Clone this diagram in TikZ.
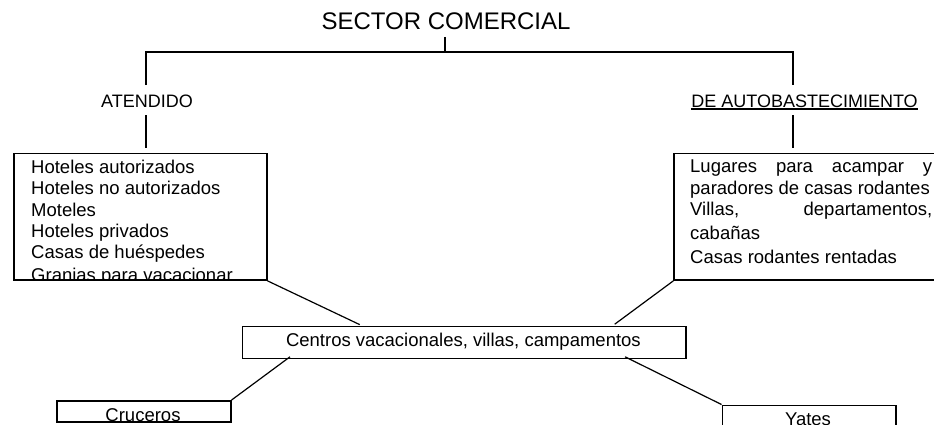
\documentclass[tikz,border=0pt]{standalone}
\usepackage{fontspec}
\setmainfont{Liberation Sans}
\begin{document}
\begin{tikzpicture}[x=1pt,y=-1pt,
  conn/.style={line width=1.2pt},
  box/.style={draw,line width=1.6pt,rectangle,inner sep=0pt,anchor=north west},
  btext/.style={font=\fontsize{18.5}{22}\selectfont,inner sep=0pt,anchor=base west},
  ctext/.style={font=\fontsize{18.5}{22}\selectfont,inner sep=0pt,anchor=base},
  lab/.style={font=\fontsize{18}{22}\selectfont,inner sep=0pt,anchor=base}]
\clip (0,0) rectangle (934,425);
% title and labels
\node[font=\fontsize{24}{28}\selectfont,inner sep=0pt,anchor=base] (title) at (446,29.3) {SECTOR COMERCIAL};
\node[lab] (atend) at (147,108) {ATENDIDO};
\node[lab] (auto) at (804.5,107.3) {DE AUTOBASTECIMIENTO};
\draw[line width=1.3pt] ([yshift=-1.8pt]auto.base west) -- ([yshift=-1.8pt]auto.base east);
% junctions
\coordinate (tj) at (445,52);
\coordinate (lj) at (146,52);
\coordinate (rj) at (793,52);
% boxes
\node[box,minimum width=252.7pt,minimum height=126.8pt] (lbox) at (13.3,152.5) {};
\node[box,minimum width=300pt,minimum height=126.8pt] (rbox) at (673.3,152.5) {};
\node[box,minimum width=443.3pt,minimum height=32pt] (cbox) at (241.7,325.7) {};
\node[box,minimum width=174pt,minimum height=21pt] (cru) at (56,400) {};
\node[box,minimum width=173.5pt,minimum height=40pt] (yat) at (721.5,404.5) {};
% left box text
\begin{scope}
\clip ([shift={(0.8pt,0.8pt)}]lbox.south west) rectangle ([shift={(-0.8pt,-0.8pt)}]lbox.north east);
\node[btext] (l1) at (31,173.3) {Hoteles autorizados};
\node[btext] (l2) at (31,194.7) {Hoteles no autorizados};
\node[btext] (l3) at (31,216.1) {Moteles};
\node[btext] (l4) at (31,237.5) {Hoteles privados};
\node[btext] (l5) at (31,258.9) {Casas de huéspedes};
\node[btext] (l6) at (31,281) {Granjas para vacacionar};
\end{scope}
% right box text
\node[btext] (r1) at (690,172.7) {\makebox[242pt][l]{Lugares\hfill para\hfill acampar\hfill y}};
\node[btext] (r2) at (690,194) {paradores de casas rodantes};
\node[btext] (r3) at (690,215.7) {\makebox[242pt][l]{Villas,\hfill departamentos,}};
\node[btext] (r4) at (690,239.3) {cabañas};
\node[btext] (r5) at (690,263.3) {Casas rodantes rentadas};
% centre box text
\node[ctext] (ct) at (463.4,346.7) {Centros vacacionales, villas, campamentos};
% lower box texts
\begin{scope}
\clip ([shift={(0.8pt,0.8pt)}]cru.south west) rectangle ([shift={(-0.8pt,-0.8pt)}]cru.north east);
\node[ctext] (crt) at (143,421) {Cruceros};
\end{scope}
\node[ctext] (yt) at (808,425) {Yates};
% connectors
\draw[conn,shorten <=7.7pt] (title.base -| tj) -- (tj);
\draw[conn] ([yshift=10pt]lj |- atend.north) -- (lj) -- (rj) -- ([yshift=10pt]rj |- auto.north);
\draw[conn] ([yshift=-7pt]lj |- atend.south) -- ([yshift=4.5pt]lj |- lbox.north);
\draw[conn] ([yshift=-7.7pt]rj |- auto.south) -- ([yshift=4.5pt]rj |- rbox.north);
\draw[conn,shorten >=2.5pt] (lbox.south east) -- ([xshift=120.3pt]cbox.north west);
\draw[conn,shorten >=2.5pt] (rbox.south west) -- ([xshift=371pt]cbox.north west);
\draw[conn] ([xshift=48.3pt,yshift=2.5pt]cbox.south west) -- (cru.north east);
\draw[conn] ([xshift=383.3pt,yshift=2.5pt]cbox.south west) -- (yat.north west);
\end{tikzpicture}
\end{document}
